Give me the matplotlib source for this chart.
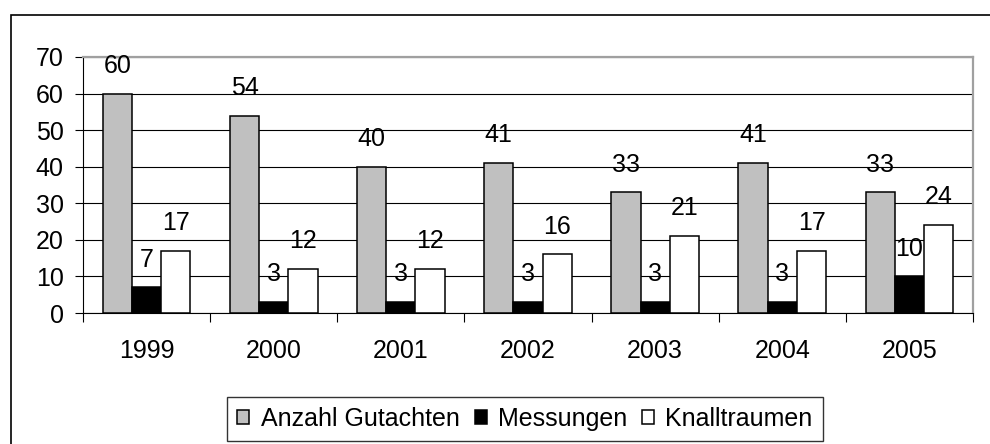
import numpy as np
import matplotlib.pyplot as plt
from matplotlib.patches import Rectangle

plt.rcParams['font.family'] = ['Liberation Sans', 'DejaVu Sans']

years = ['1999', '2000', '2001', '2002', '2003', '2004', '2005']
gutachten = [60, 54, 40, 41, 33, 41, 33]
messungen = [7, 3, 3, 3, 3, 3, 10]
knalltraumen = [17, 12, 12, 16, 21, 17, 24]
series_names = ['Anzahl Gutachten', 'Messungen', 'Knalltraumen']

fig = plt.figure(figsize=(9.9, 4.44), dpi=100)
W, H = 990, 444

# outer chart frame (clipped at right/bottom like the original)
fig.patches.append(Rectangle((11 / W, -0.5), 1.2, 1.5 - 15 / H, transform=fig.transFigure,
                             fill=False, edgecolor='black', linewidth=1.2))

ax = fig.add_axes([83 / W, 1 - 313 / H, (973 - 83) / W, (313 - 57) / H])

x = np.arange(len(years))
w = 0.23
colors = ['#c0c0c0', 'black', 'white']
data = [gutachten, messungen, knalltraumen]
for i, (vals, c, name) in enumerate(zip(data, colors, series_names)):
    bars = ax.bar(x + (i - 1) * w, vals, w, color=c, edgecolor='black',
                  linewidth=1.1, label=name, zorder=3)
    for b, v in zip(bars, vals):
        ax.annotate(str(v), (b.get_x() + b.get_width() / 2, v), xytext=(0, 20),
                    textcoords='offset points', ha='center', va='center',
                    fontsize=18, zorder=4)

ax.set_xlim(-0.5, len(years) - 0.5)
ax.set_ylim(0, 70)
ax.set_yticks(range(0, 71, 10))
ax.set_xticks(x)
ax.set_xticklabels(years)
ax.set_xticks(np.arange(-0.5, len(years), 1), minor=True)
ax.tick_params(axis='x', which='major', length=0, pad=19, labelsize=18)
ax.tick_params(axis='x', which='minor', length=6.5, width=0.8, direction='out')
ax.tick_params(axis='y', length=5.8, width=0.8, direction='out', labelsize=18, pad=8)
ax.yaxis.grid(True, color='black', linewidth=0.8, zorder=0)
ax.set_axisbelow(True)
for s in ['top', 'right']:
    ax.spines[s].set_color('#a0a0a0')
    ax.spines[s].set_linewidth(1.6)
ax.spines['left'].set_color('black')
ax.spines['bottom'].set_color('black')

leg = fig.legend(loc='upper center', bbox_to_anchor=(525 / W, 1 - 397 / H),
                 ncol=3, fontsize=18, frameon=True, fancybox=False,
                 handlelength=0.48, handleheight=0.48, handletextpad=0.45,
                 columnspacing=0.6, borderpad=0.4, borderaxespad=0)
leg.get_frame().set_edgecolor('black')
leg.get_frame().set_linewidth(1.0)

fig.savefig('out.png', dpi=100)
